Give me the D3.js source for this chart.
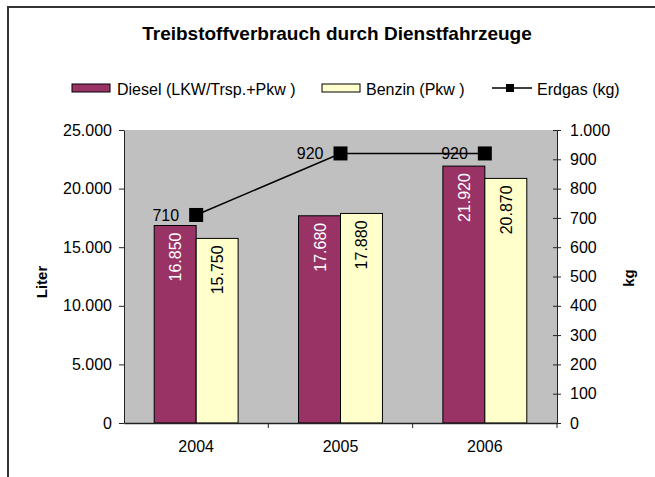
<!DOCTYPE html>
<html>
<head>
<meta charset="utf-8">
<script src="https://cdn.jsdelivr.net/npm/d3@7"></script>
<style>
  body { margin: 0; background: #fff; }
  svg { font-family: Arial, "Liberation Sans", sans-serif; }
  .axis text { font-size: 16px; fill: #000; }
  .axis path, .axis line { stroke: #222; }
</style>
</head>
<body>
<svg width="655" height="477"></svg>
<script>
var years = ["2004", "2005", "2006"];
var diesel = [16850, 17680, 21920];
var benzin = [15750, 17880, 20870];
var erdgas = [710, 920, 920];
var literTicks = [0, 5000, 10000, 15000, 20000, 25000];
var kgTicks = [0, 100, 200, 300, 400, 500, 600, 700, 800, 900, 1000];
var seriesNames = ["Diesel (LKW/Trsp.+Pkw )", "Benzin (Pkw )", "Erdgas (kg)"];

var svg = d3.select("svg"),
    margin = {top: 130, left: 124, right: 98, bottom: 54},
    width = 655 - margin.left - margin.right,
    height = 477 - margin.top - margin.bottom;

var de = d3.formatLocale({decimal: ",", thousands: ".", grouping: [3], currency: ["", " €"]});
var fmt = de.format(",");

// outer frame (runs past the picture on the right and bottom)
svg.append("rect")
    .attr("x", 8).attr("y", 7)
    .attr("width", 700).attr("height", 520)
    .attr("fill", "none")
    .attr("stroke", "#333")
    .attr("stroke-width", 2);

svg.append("text")
    .attr("x", 337).attr("y", 40)
    .attr("text-anchor", "middle")
    .style("font-size", "19px")
    .style("font-weight", "bold")
    .text("Treibstoffverbrauch durch Dienstfahrzeuge");

var g = svg.append("g").attr("transform", "translate(" + margin.left + "," + margin.top + ")");

var x0 = d3.scaleBand().domain(years).range([0, width]).padding(0);
var x1 = d3.scaleBand().domain([0, 1]).range([0, x0.bandwidth()]).paddingInner(0).paddingOuter(0.72);
var y = d3.scaleLinear().domain([0, 25000]).range([height, 0]);
var y2 = d3.scaleLinear().domain([0, 1000]).range([height, 0]);

g.append("rect")
    .attr("width", width).attr("height", height)
    .attr("fill", "#c0c0c0");

// bars
var bars = [
  {vals: diesel, fill: "#993366", label: "#fff"},
  {vals: benzin, fill: "#ffffcc", label: "#000"}
];
bars.forEach(function(s, i) {
  g.selectAll(".bar" + i)
    .data(years)
    .enter().append("rect")
      .attr("x", function(d) { return x0(d) + x1(i); })
      .attr("y", function(d, j) { return y(s.vals[j]); })
      .attr("width", x1.bandwidth())
      .attr("height", function(d, j) { return height - y(s.vals[j]); })
      .attr("fill", s.fill)
      .attr("stroke", "#000")
      .attr("stroke-width", 1);

  g.selectAll(".lab" + i)
    .data(years)
    .enter().append("text")
      .attr("transform", function(d, j) {
        return "translate(" + (x0(d) + x1(i) + x1.bandwidth() / 2 + 6) + "," + (y(s.vals[j]) + 7) + ") rotate(-90)";
      })
      .attr("text-anchor", "end")
      .style("font-size", "16px")
      .attr("fill", s.label)
      .text(function(d, j) { return fmt(s.vals[j]); });
});

// axes
g.append("g")
    .attr("class", "axis")
    .call(d3.axisLeft(y).tickValues(literTicks).tickFormat(fmt).tickSize(5).tickSizeOuter(0).tickPadding(7));

var ra = g.append("g")
    .attr("class", "axis")
    .attr("transform", "translate(" + width + ",0)")
    .call(d3.axisRight(y2).tickValues(kgTicks).tickFormat(fmt).tickSize(4).tickSizeOuter(0).tickPadding(9));
ra.selectAll(".tick line").attr("x1", -4);

var bx = g.append("g")
    .attr("class", "axis")
    .attr("transform", "translate(0," + height + ")")
    .call(d3.axisBottom(x0).tickSize(0).tickSizeOuter(0).tickPadding(18));
bx.select(".domain").attr("stroke", "#333").attr("stroke-width", 1.5);
bx.selectAll(".boundary")
    .data(years.slice(1).concat([null]))
    .enter().append("line")
      .attr("x1", function(d) { return d ? x0(d) : width; })
      .attr("x2", function(d) { return d ? x0(d) : width; })
      .attr("y1", 0).attr("y2", 5)
      .attr("stroke", "#222");

// Erdgas line
var line = d3.line()
    .x(function(d) { return x0(d) + x0.bandwidth() / 2; })
    .y(function(d, j) { return y2(erdgas[j]); });

g.append("path")
    .datum(years)
    .attr("fill", "none")
    .attr("stroke", "#000")
    .attr("stroke-width", 1.5)
    .attr("d", line);

g.selectAll(".mark")
  .data(years)
  .enter().append("rect")
    .attr("x", function(d) { return x0(d) + x0.bandwidth() / 2 - 7; })
    .attr("y", function(d, j) { return y2(erdgas[j]) - 7; })
    .attr("width", 14).attr("height", 14)
    .attr("fill", "#000");

g.selectAll(".mlab")
  .data(years)
  .enter().append("text")
    .attr("x", function(d) { return x0(d) + x0.bandwidth() / 2 - 17; })
    .attr("y", function(d, j) { return y2(erdgas[j]) + 6; })
    .attr("text-anchor", "end")
    .style("font-size", "16px")
    .text(function(d, j) { return fmt(erdgas[j]); });

// axis titles
svg.append("text")
    .attr("transform", "translate(47,282) rotate(-90)")
    .attr("text-anchor", "middle")
    .style("font-size", "15px").style("font-weight", "bold")
    .text("Liter");
svg.append("text")
    .attr("transform", "translate(634,278) rotate(-90)")
    .attr("text-anchor", "middle")
    .style("font-size", "15px").style("font-weight", "bold")
    .text("kg");

// legend
var lg = svg.append("g").style("font-size", "16px");
lg.append("rect").attr("x", 72).attr("y", 84).attr("width", 38).attr("height", 8)
    .attr("fill", "#993366").attr("stroke", "#000");
lg.append("text").attr("x", 117).attr("y", 95).text(seriesNames[0]);
lg.append("rect").attr("x", 322).attr("y", 84).attr("width", 38).attr("height", 8)
    .attr("fill", "#ffffcc").attr("stroke", "#000");
lg.append("text").attr("x", 366).attr("y", 95).text(seriesNames[1]);
lg.append("line").attr("x1", 492).attr("x2", 532).attr("y1", 88).attr("y2", 88)
    .attr("stroke", "#000").attr("stroke-width", 1.5);
lg.append("rect").attr("x", 506).attr("y", 84).attr("width", 8).attr("height", 8).attr("fill", "#000");
lg.append("text").attr("x", 537).attr("y", 95).text(seriesNames[2]);
</script>
</body>
</html>
